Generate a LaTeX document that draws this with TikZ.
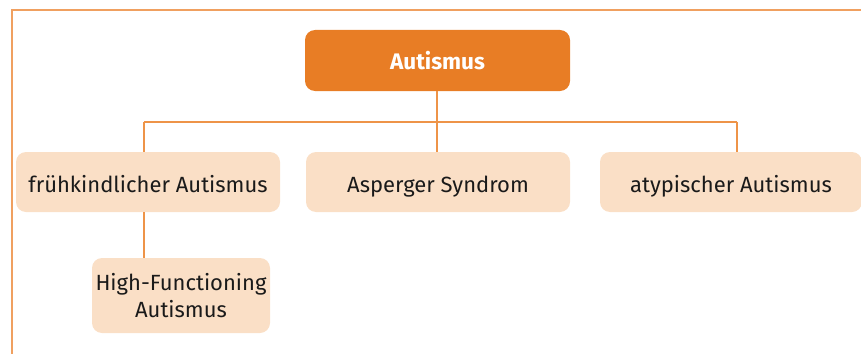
\documentclass[tikz,border=0pt]{standalone}
\usepackage{fontspec}
\setmainfont{Fira Sans}
\definecolor{topfill}{HTML}{E87D25}
\definecolor{childfill}{HTML}{FADFC6}
\definecolor{linec}{HTML}{EE9448}
\definecolor{framec}{HTML}{F0A060}
\definecolor{textc}{HTML}{1A1A1A}
\tikzset{
  topbox/.style={fill=topfill, rounded corners=10pt, minimum width=265pt, minimum height=61pt, inner sep=0pt, text=white, font=\fontsize{22.5}{27}\selectfont\bfseries, text height=19pt, text depth=0pt},
  childbox/.style={fill=childfill, rounded corners=10pt, minimum height=60pt, inner sep=0pt, text=textc, font=\fontsize{22}{27}\selectfont, align=center},
  oneline/.style={text height=20pt, text depth=0pt},
  conn/.style={draw=linec, line width=1.5pt},
}
\begin{document}
\begin{tikzpicture}[x=1pt,y=-1pt]
\useasboundingbox (0,0) rectangle (861,353);
\draw[framec, line width=2pt] (862,10) -- (11.5,10) -- (11.5,354);
\node[topbox] (top) at (437.5,60.5) {Autismus};
\node[childbox, oneline, minimum width=264pt] (a) at (148,182) {frühkindlicher Autismus};
\node[childbox, oneline, minimum width=264pt] (b) at (438,182) {Asperger Syndrom};
\node[childbox, oneline, minimum width=262pt] (c) at (731,182) {atypischer Autismus};
\node[childbox, minimum width=178pt, minimum height=75pt] (hf) at (181,295.5) {High-Functioning\\Autismus};
\coordinate (hy) at (437,122);
\coordinate (hl) at (144,122);
\coordinate (hr) at (737,122);
\draw[conn] (top.south -| hy) -- (hy);
\draw[conn] (hl) -- (hr);
\draw[conn] (hl) -- (hl |- a.north);
\draw[conn] (hy) -- (hy |- b.north);
\draw[conn] (hr) -- (hr |- c.north);
\draw[conn] (a.south -| hl) -- (hl |- hf.north);
\end{tikzpicture}
\end{document}
